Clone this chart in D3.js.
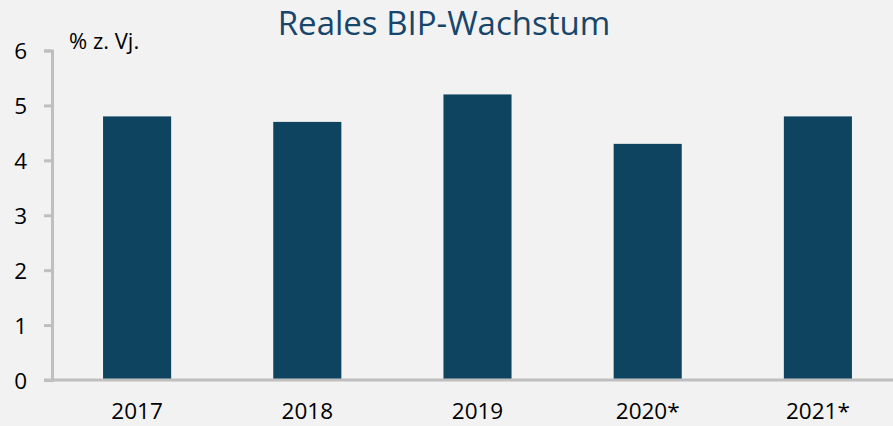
<!DOCTYPE html>
<html>
<head>
<meta charset="utf-8">
<script src="https://d3js.org/d3.v7.min.js"></script>
<style>
body { margin: 0; background: #f2f2f2; }
svg { display: block; font-family: "Open Sans", sans-serif; }
.axis path, .axis line { stroke: #bfbfbf; stroke-width: 3; }
.axis text { fill: #000; font-size: 22.5px; font-family: "Open Sans", sans-serif; }
</style>
</head>
<body>
<svg id="chart"></svg>
<script>
// data
var years = ["2017", "2018", "2019", "2020*", "2021*"];
var growth = [4.8, 4.7, 5.2, 4.3, 4.8];
var yTicks = [0, 1, 2, 3, 4, 5, 6];

var width = 893, height = 426;
var plotLeft = 52, plotTop = 50.5, plotBottom = 380, plotRight = 903;

var svg = d3.select("#chart").attr("width", width).attr("height", height);

svg.append("rect").attr("width", width).attr("height", height).attr("fill", "#f2f2f2");

var x = d3.scaleBand().domain(years).range([plotLeft, plotRight]).paddingInner(0.6).paddingOuter(0.3);
var y = d3.scaleLinear().domain([0, 6]).range([plotBottom, plotTop]);

svg.append("g")
    .selectAll("rect")
    .data(growth)
    .enter().append("rect")
    .attr("x", function(d, i) { return x(years[i]); })
    .attr("y", function(d) { return y(d); })
    .attr("width", x.bandwidth())
    .attr("height", function(d) { return plotBottom - y(d); })
    .attr("fill", "#0e4460");

// y axis
var yAxis = svg.append("g")
    .attr("class", "axis")
    .attr("transform", "translate(" + plotLeft + ",0)")
    .call(d3.axisLeft(y).tickValues(yTicks).tickFormat(d3.format("d")).tickSize(8).tickSizeOuter(8).tickPadding(17));
yAxis.selectAll("text").attr("dy", "0.36em");

// x axis
var xAxis = svg.append("g")
    .attr("class", "axis")
    .attr("transform", "translate(0," + plotBottom + ")")
    .call(d3.axisBottom(x).tickSize(0).tickPadding(23));
xAxis.select("path").attr("d", "M" + (plotLeft - 8) + ",0H" + width);

svg.append("text")
    .attr("x", 69)
    .attr("y", 49)
    .attr("font-size", 22)
    .attr("fill", "#000")
    .text("% z. Vj.");

svg.append("text")
    .attr("x", 444)
    .attr("y", 35)
    .attr("text-anchor", "middle")
    .attr("font-size", 33)
    .attr("fill", "#17466a")
    .text("Reales BIP-Wachstum");
</script>
</body>
</html>
